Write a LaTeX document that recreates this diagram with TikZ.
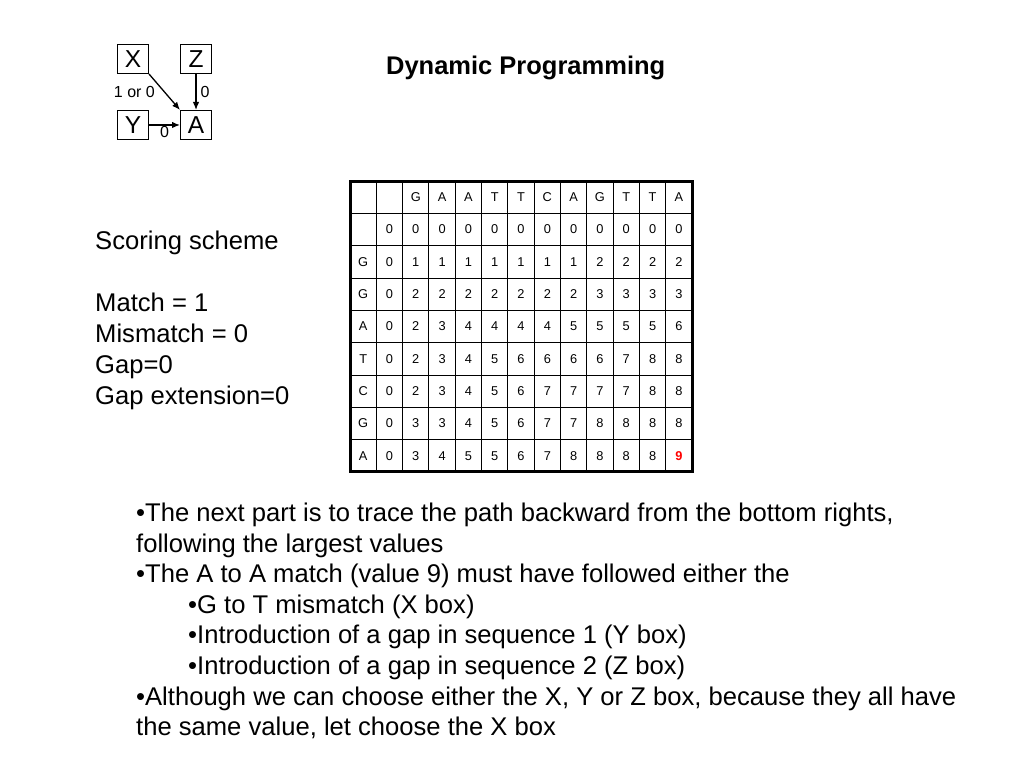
\documentclass[tikz,border=0pt]{standalone}
\usepackage{fontspec}
\setmainfont{Liberation Sans}
\usetikzlibrary{arrows.meta}

\begin{document}
\begin{tikzpicture}[x=1pt, y=1pt,
  box/.style={draw, line width=1pt, minimum width=31pt, minimum height=29pt, inner sep=0pt, font=\fontsize{24.5}{24.5}\selectfont},
  tag/.style={inner sep=0pt, font=\fontsize{16}{16}\selectfont},
  feed/.style={-{Latex[length=8pt, width=6.5pt]}, line width=1.3pt},
  body/.style={anchor=base west, inner sep=0pt, font=\fontsize{25.6}{30}\selectfont},
  cell/.style={inner sep=0pt, font=\fontsize{12.8}{12.8}\selectfont}]
\useasboundingbox (0, 0) rectangle (1024, 768);

% X, Y, Z boxes feeding A
\node [box] (X) at (133, 709) {X};
\node [box] (Z) at (196, 709) {Z};
\node [box] (Y) at (133, 643) {Y};
\node [box] (A) at (196, 643) {A};
\draw [feed] (X.south east) -- node [tag, left=9pt] (lXA) {1 or 0} (A.north west);
\draw [feed] (Z) -- node [tag, right=4pt] (lZA) {0} (A);
\draw [feed] (Y) -- node [tag, below=1pt] (lYA) {0} (A);

\node [anchor=base, inner sep=0pt, font=\fontsize{25.5}{30}\selectfont\bfseries] (title) at (525.7, 693.7) {Dynamic Programming};

\node [body] (score) at (95, 518.7) {Scoring scheme};
\node [body] (match) at (95, 456.3) {Match = 1};
\node [body] (mismatch) at (95, 425.3) {Mismatch = 0};
\node [body] (gap) at (95, 394.7) {Gap=0};
\node [body] (gapext) at (95, 363.7) {Gap extension=0};

% score table
\begin{scope}[shift={(350, 296)}, x=26.31pt, y=32.33pt]
\draw [step=1, line width=1pt] (0, 0) grid (13, 9);
\draw [line width=3pt] (0, 0) rectangle (13, 9);
\foreach \base [count=\c from 2] in {G,A,A,T,T,C,A,G,T,T,A}
  \node [cell] (top\c) at (\c+0.5, 8.5) {\base};
\foreach \c in {1,...,12}
  \node [cell] (zero\c) at (\c+0.5, 7.5) {0};
\foreach \base/\vals [count=\r from 1] in {G/{0,1,1,1,1,1,1,1,2,2,2,2},
    G/{0,2,2,2,2,2,2,2,3,3,3,3}, A/{0,2,3,4,4,4,4,5,5,5,5,6},
    T/{0,2,3,4,5,6,6,6,6,7,8,8}, C/{0,2,3,4,5,6,7,7,7,7,8,8},
    G/{0,3,3,4,5,6,7,7,8,8,8,8}, A/{0,3,4,5,5,6,7,8,8,8,8}}{
  \node [cell] (side\r) at (0.5, 7.5-\r) {\base};
  \foreach \v [count=\c from 1] in \vals
    \node [cell] (s\r c\c) at (\c+0.5, 7.5-\r) {\v};
}
\node [cell, text=red, font={\fontsize{12.8}{12.8}\selectfont\bfseries}] (best) at (12.5, 0.5) {9};
\end{scope}

\node [body] (b1) at (136, 246.5) {•The next part is to trace the path backward from the bottom rights,};
\node [body] (b1b) at (136, 215.9) {following the largest values};
\node [body] (b2) at (136, 185.3) {•The A to A match (value 9) must have followed either the};
\node [body] (b2a) at (188, 154.7) {•G to T mismatch (X box)};
\node [body] (b2b) at (188, 124.1) {•Introduction of a gap in sequence 1 (Y box)};
\node [body] (b2c) at (188, 93.5) {•Introduction of a gap in sequence 2 (Z box)};
\node [body] (b3) at (136, 62.9) {•Although we can choose either the X, Y or Z box, because they all have};
\node [body] (b3b) at (136, 32.3) {the same value, let choose the X box};
\end{tikzpicture}
\end{document}
